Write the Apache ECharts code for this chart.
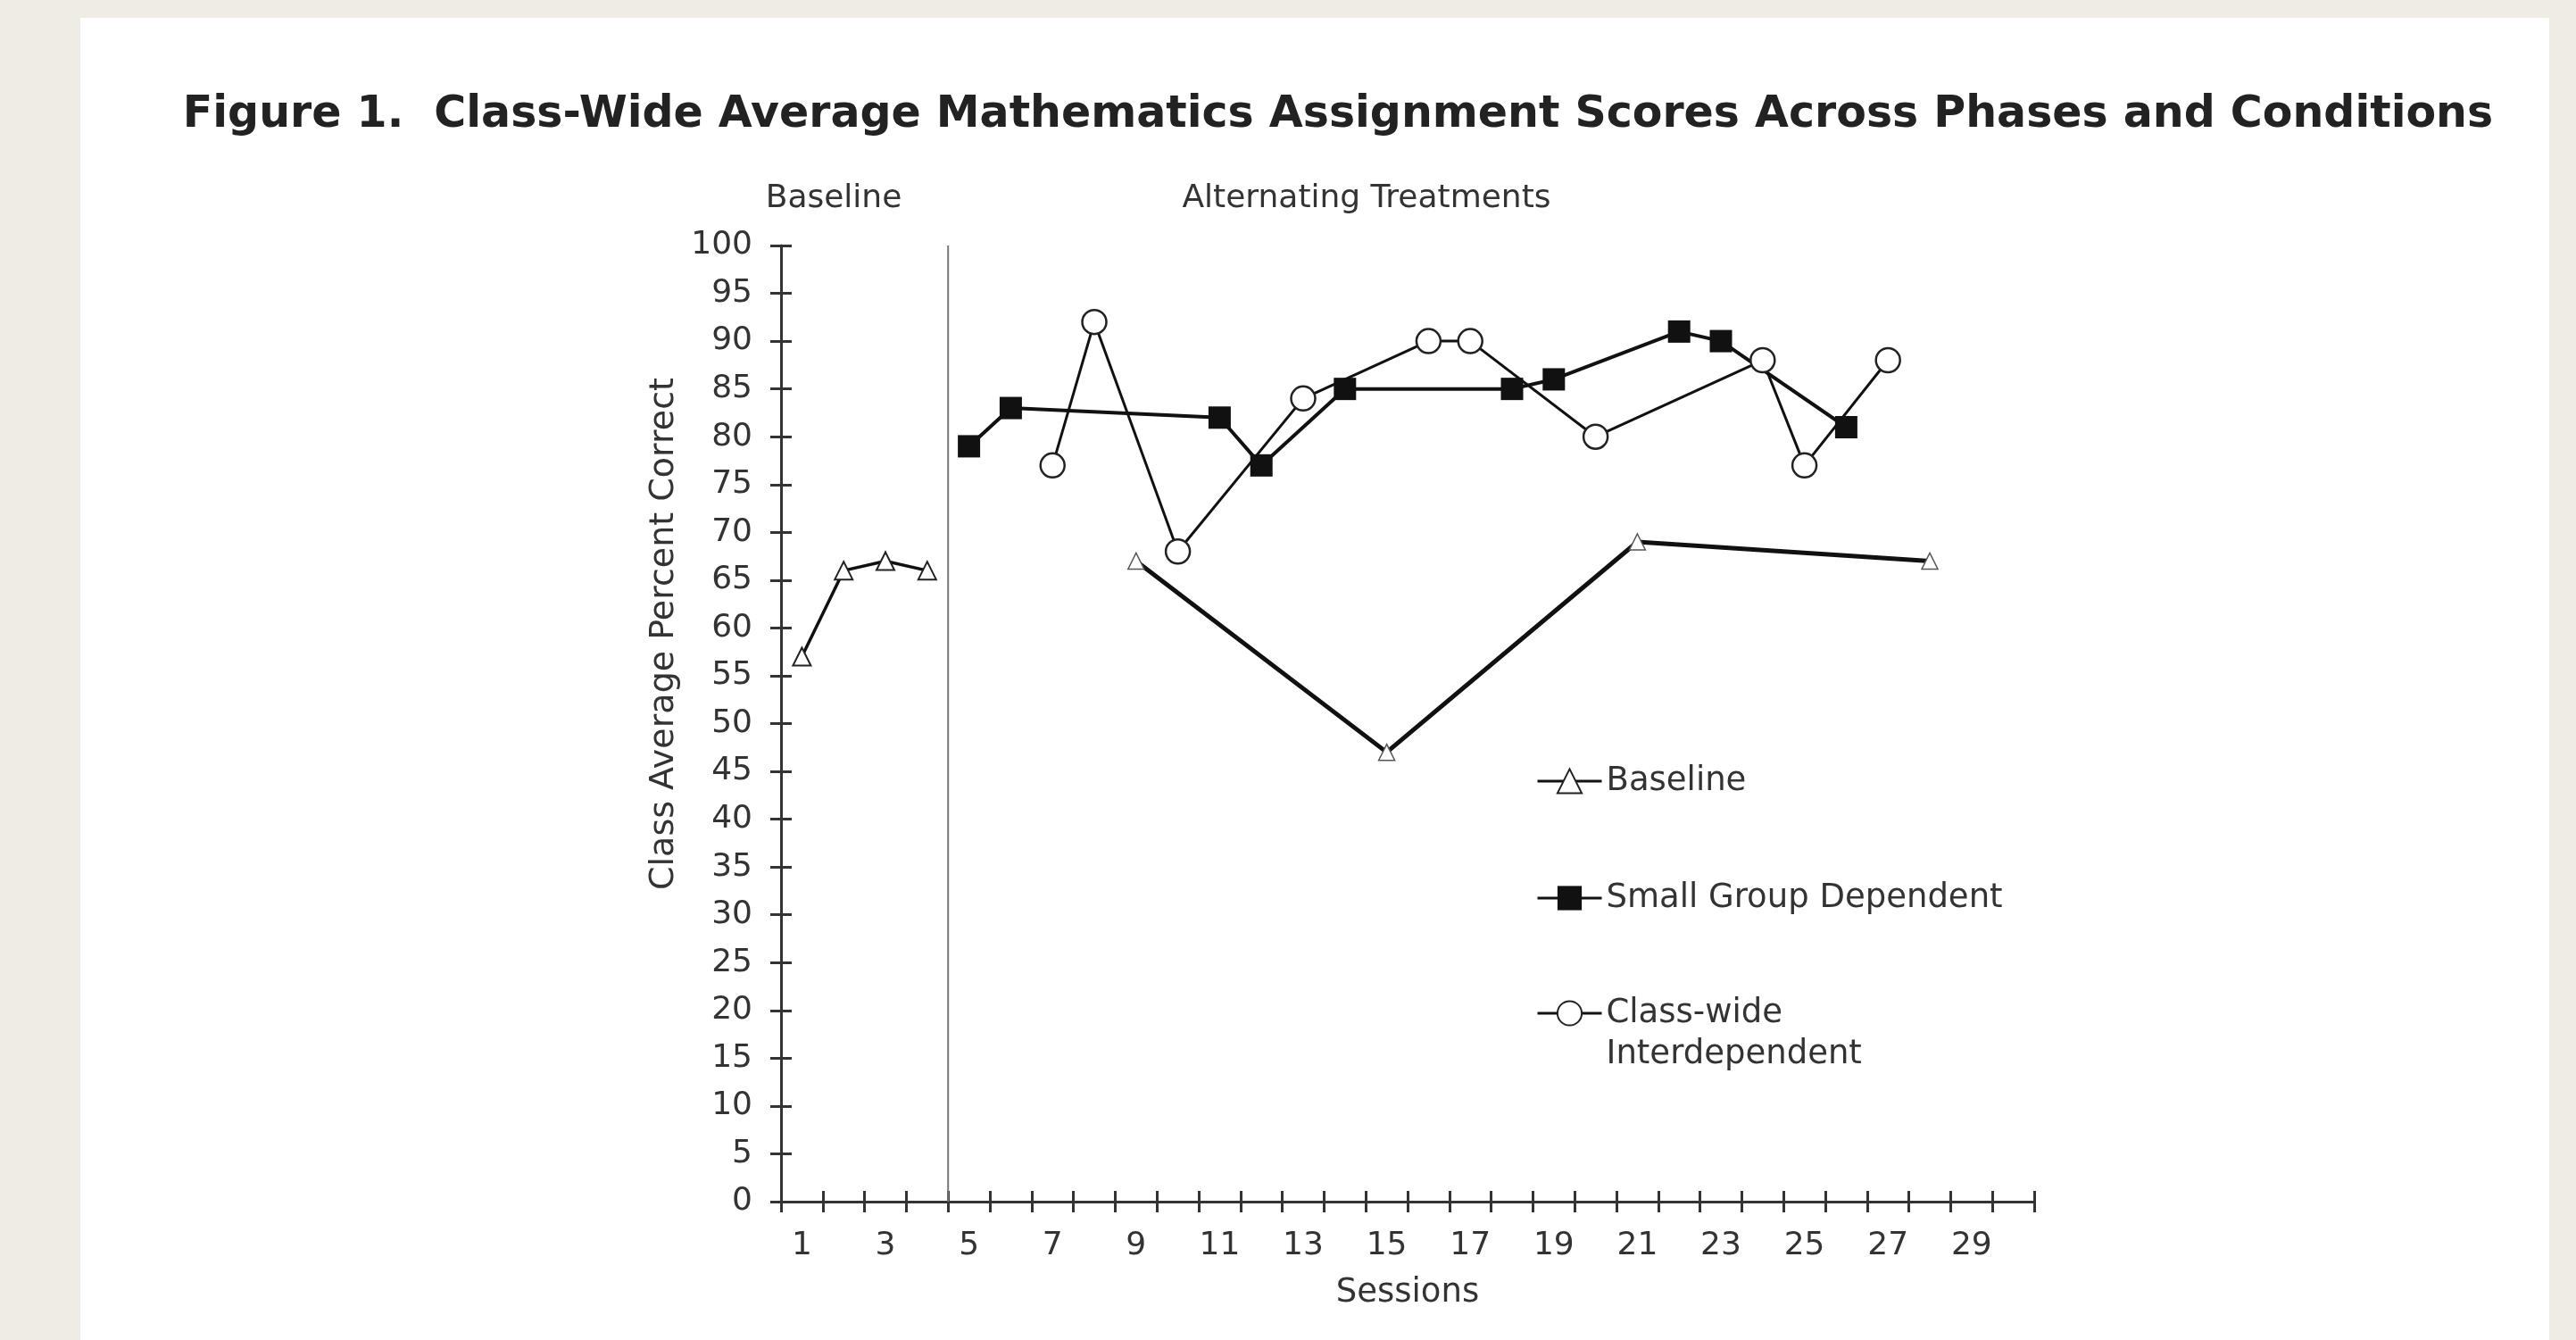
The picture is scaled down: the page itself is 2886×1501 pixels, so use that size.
<!DOCTYPE html>
<html>
<head>
<meta charset="utf-8">
<script src="https://cdn.jsdelivr.net/npm/echarts@6/dist/echarts.min.js"></script>
<style>
    html, body { margin: 0; padding: 0; background: #efece5; }
    #chart { width: 2886px; height: 1501px; }
</style>
</head>
<body>
<div id="chart"></div>
<script>
// sessions on the x axis (category axis, labels on odd sessions)
var sessions = ['1', '2', '3', '4', '5', '6', '7', '8', '9', '10',
    '11', '12', '13', '14', '15', '16', '17', '18', '19', '20',
    '21', '22', '23', '24', '25', '26', '27', '28', '29', '30'];

// baseline phase
var baselineSessions = ['1', '2', '3', '4'];
var baselineScores = [57, 66, 67, 66];

// baseline probes during alternating treatments
var probeSessions = ['9', '15', '21', '28'];
var probeScores = [67, 47, 69, 67];

// small group dependent
var sgdSessions = ['5', '6', '11', '12', '14', '18', '19', '22', '23', '26'];
var sgdScores = [79, 83, 82, 77, 85, 85, 86, 91, 90, 81];

// class-wide interdependent
var cwiSessions = ['7', '8', '10', '13', '16', '17', '20', '24', '25', '27'];
var cwiScores = [77, 92, 68, 84, 90, 90, 80, 88, 77, 88];

// phase change between session 4 and 5
var phaseChange = 4;

function pairs(xs, ys) {
    return xs.map(function (x, i) { return [x, ys[i]]; });
}

var font = 'DejaVu Sans';
var ink = '#333';

var chart = echarts.init(document.getElementById('chart'));

var legendText = { fontFamily: font, fontSize: 37, color: ink, lineHeight: 46 };
var legendLine = { width: 3 };

var option = {
    backgroundColor: '#efece5',
    animation: false,
    graphic: [
        // white page
        { type: 'rect', z: -10, shape: { x: 90, y: 20, width: 2766, height: 1490 }, style: { fill: '#fff' } },
        // figure title
        { type: 'text', x: 1499, y: 129, style: { text: 'Figure 1.  Class-Wide Average Mathematics Assignment Scores Across Phases and Conditions', font: 'bold 49px "DejaVu Sans"', fill: '#222', textAlign: 'center', textVerticalAlign: 'middle' } },
        // phase labels
        { type: 'text', x: 934, y: 223, style: { text: 'Baseline', font: '36px "DejaVu Sans"', fill: ink, textAlign: 'center', textVerticalAlign: 'middle' } },
        { type: 'text', x: 1531, y: 223, style: { text: 'Alternating Treatments', font: '36px "DejaVu Sans"', fill: ink, textAlign: 'center', textVerticalAlign: 'middle' } },
        // y axis title (sits above the axis middle in the original)
        { type: 'text', x: 744, y: 710, rotation: Math.PI / 2, style: { text: 'Class Average Percent Correct', font: '38px "DejaVu Sans"', fill: ink, textAlign: 'center', textVerticalAlign: 'middle' } }
    ],
    grid: { left: 875, right: 607, top: 275, bottom: 155 },
    legend: [
        {
            data: ['Baseline'], left: 1721, top: 852, padding: 0, selectedMode: false,
            itemWidth: 72, itemHeight: 34, itemGap: 6,
            lineStyle: legendLine,
            textStyle: legendText
        },
        {
            data: ['Small Group Dependent'], left: 1721, top: 983, padding: 0, selectedMode: false,
            itemWidth: 72, itemHeight: 34, itemGap: 6,
            lineStyle: legendLine,
            textStyle: legendText
        },
        {
            data: ['Class-wide Interdependent'], left: 1721, top: 1066, padding: 0, selectedMode: false,
            itemWidth: 72, itemHeight: 34, itemGap: 6,
            lineStyle: legendLine,
            // empty first line keeps the symbol level with "Class-wide"
            formatter: function () { return '\nClass-wide\nInterdependent'; },
            textStyle: legendText
        }
    ],
    xAxis: [
        {
            type: 'category',
            data: sessions,
            boundaryGap: true,
            name: 'Sessions',
            nameLocation: 'middle',
            nameGap: 84,
            nameTextStyle: { fontFamily: font, fontSize: 37, color: ink },
            axisLine: { show: true, onZero: false, lineStyle: { color: ink, width: 3 } },
            axisTick: { show: false },
            axisLabel: { interval: 1, margin: 32, fontFamily: font, fontSize: 36, color: ink },
            splitLine: { show: false }
        },
        {
            // crossing ticks: axis pushed 12px down, ticks drawn 24px up
            type: 'category',
            data: sessions,
            boundaryGap: true,
            position: 'bottom',
            offset: 12,
            axisLine: { show: false, onZero: false },
            axisTick: { show: true, inside: true, interval: 0, length: 24, lineStyle: { color: ink, width: 3 } },
            axisLabel: { show: false },
            splitLine: { show: false }
        },
        {
            // hidden linear axis for the phase change line
            type: 'value',
            min: 0,
            max: 30,
            show: false,
            axisLine: { onZero: false }
        }
    ],
    yAxis: [
        {
            type: 'value',
            min: 0,
            max: 100,
            interval: 5,
            axisLine: { show: true, onZero: false, lineStyle: { color: ink, width: 3 } },
            axisTick: { show: false },
            axisLabel: { margin: 32, fontFamily: font, fontSize: 36, color: ink },
            splitLine: { show: false }
        },
        {
            // crossing ticks: axis pushed 12px left, ticks drawn 24px right
            type: 'value',
            min: 0,
            max: 100,
            interval: 5,
            position: 'left',
            offset: 12,
            axisLine: { show: false, onZero: false },
            axisTick: { show: true, inside: true, length: 24, lineStyle: { color: ink, width: 3 } },
            axisLabel: { show: false },
            splitLine: { show: false }
        }
    ],
    series: [
        {
            name: 'phase',
            type: 'line',
            xAxisIndex: 2,
            yAxisIndex: 0,
            data: [[phaseChange, 0], [phaseChange, 100]],
            symbol: 'none',
            lineStyle: { color: '#777', width: 2 },
            z: 1
        },
        {
            name: 'Baseline',
            type: 'line',
            data: pairs(baselineSessions, baselineScores),
            symbol: 'triangle',
            symbolSize: 20,
            lineStyle: { color: '#111', width: 3.5 },
            itemStyle: { color: '#fff', borderColor: '#222', borderWidth: 2 }
        },
        {
            name: 'Baseline',
            type: 'line',
            data: pairs(probeSessions, probeScores),
            symbol: 'triangle',
            symbolSize: 18,
            lineStyle: { color: '#111', width: 5 },
            itemStyle: { color: '#fff', borderColor: '#555', borderWidth: 1.5 }
        },
        {
            name: 'Small Group Dependent',
            type: 'line',
            data: pairs(sgdSessions, sgdScores),
            symbol: 'rect',
            symbolSize: 25,
            lineStyle: { color: '#111', width: 4 },
            itemStyle: { color: '#111', borderColor: '#111', borderWidth: 0 }
        },
        {
            name: 'Class-wide Interdependent',
            type: 'line',
            data: pairs(cwiSessions, cwiScores),
            symbol: 'circle',
            symbolSize: 27,
            lineStyle: { color: '#111', width: 3 },
            itemStyle: { color: '#fff', borderColor: '#222', borderWidth: 2.5 }
        }
    ]
};

chart.setOption(option);
</script>
</body>
</html>
